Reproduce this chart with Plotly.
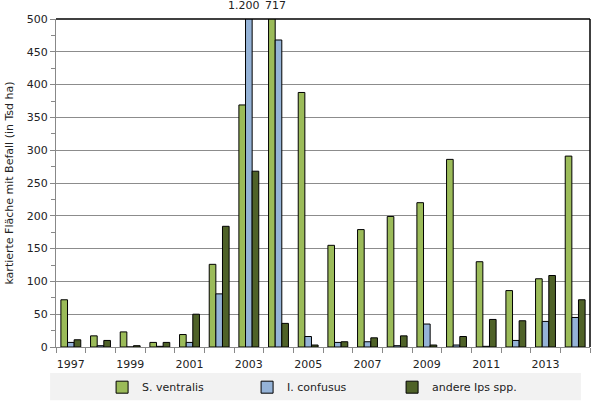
import plotly.graph_objects as go

# Kartierte Befallsfläche (Tsd ha) je Jahr
years = [str(y) for y in range(1997, 2015)]
s_ventralis = [72, 17, 23, 7, 19, 126, 369, 717, 388, 155, 179, 199, 220, 286, 130, 86, 104, 291]
i_confusus = [7, 2, 0, 1, 7, 81, 1200, 468, 16, 7, 8, 2, 35, 3, 1, 10, 39, 45]
andere_ips = [11, 10, 2, 7, 50, 184, 268, 36, 3, 8, 14, 17, 3, 16, 42, 40, 109, 72]

tick_text = [y if int(y) % 2 == 1 else "" for y in years]
Y_MAX = 500

FONT = "DejaVu Sans"
fig = go.Figure()
series = [
	("S. ventralis", s_ventralis, "#9BBB59"),
	("I. confusus", i_confusus, "#95B3D7"),
	("andere Ips spp.", andere_ips, "#4F6228"),
]
for name, vals, col in series:
	fig.add_trace(go.Bar(x=years, y=vals, name=name,
		marker=dict(color=col, line=dict(color="black", width=1))))

# labels for bars cut off at the top
def de_num(v):
	return "{:,}".format(v).replace(",", ".")

label_shift = [-3, -5, 0]  # px from category centre, per series
for k, (name, vals, col) in enumerate(series):
	for i, v in enumerate(vals):
		if v > Y_MAX:
			fig.add_annotation(x=i, y=Y_MAX, text=de_num(v), showarrow=False,
				yanchor="bottom", yshift=5, xshift=label_shift[k],
				font=dict(family=FONT, size=11, color="#222"))

fig.update_layout(
	width=597, height=405,
	margin=dict(l=56, r=7, t=19, b=58, autoexpand=False),
	paper_bgcolor="white", plot_bgcolor="white",
	barmode="group", bargap=0.33, bargroupgap=0,
	font=dict(family=FONT, size=11, color="#222"),
	showlegend=True,
	legend=dict(orientation="h", xref="container", yref="container",
		x=0.171, y=0.044, xanchor="left", yanchor="middle",
		bgcolor="rgba(0,0,0,0)", entrywidth=100, entrywidthmode="pixels",
		font=dict(family=FONT, size=11, color="#222"), itemwidth=30,
		tracegroupgap=0),
	shapes=[
		dict(type="rect", xref="paper", yref="paper", x0=-0.011, x1=0.983,
			y0=-0.079, y1=-0.162, fillcolor="#F2F2F2", line=dict(width=0), layer="below"),
		dict(type="line", xref="paper", yref="paper", x0=0, x1=1, y0=1, y1=1,
			line=dict(color="black", width=1.5)),
		dict(type="line", xref="paper", yref="paper", x0=1, x1=1, y0=0, y1=1,
			line=dict(color="black", width=1.5)),
	],
)
fig.update_xaxes(type="category", range=[-0.5, len(years) - 0.5],
	tickvals=years, ticktext=tick_text, tickangle=0, automargin=False,
	tickson="boundaries", ticks="outside", ticklen=5, tickcolor="#888",
	ticklabelstandoff=7,
	showline=True, linecolor="#888", linewidth=1, showgrid=False,
	tickfont=dict(family=FONT, size=11, color="#222"))
fig.update_yaxes(range=[0, Y_MAX], dtick=50, ticks="outside", ticklen=5, tickcolor="#888",
	showline=True, linecolor="#888", linewidth=1, automargin=False,
	showgrid=True, gridcolor="#8C8C8C", gridwidth=1, zeroline=False,
	minor=dict(dtick=25, ticks="outside", ticklen=4, tickcolor="#888", showgrid=False),
	title=dict(text="kartierte Fläche mit Befall (in Tsd ha)", standoff=10,
		font=dict(family=FONT, size=11, color="#222")),
	tickfont=dict(family=FONT, size=11, color="#222"))

# page body has a default 8px margin; drop it so the figure sits at 0,0
fig.write_html("out.html", config={"displayModeBar": False},
	post_script="document.body.style.margin='0';document.body.style.overflow='hidden';")
